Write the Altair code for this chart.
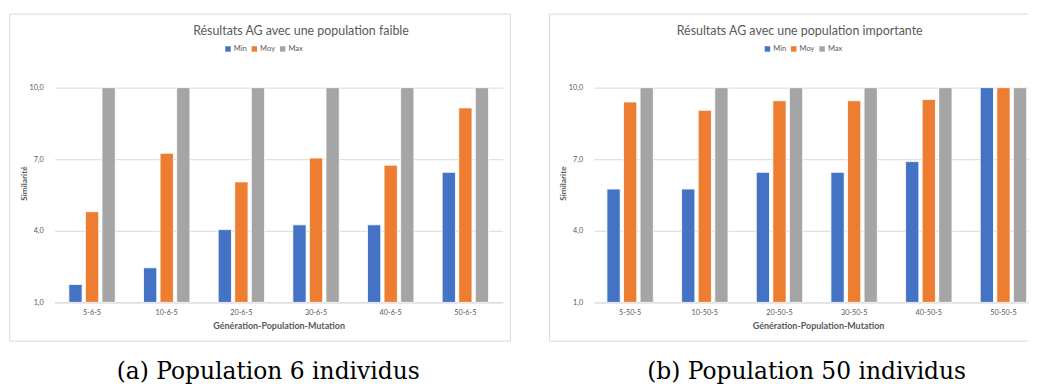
import altair as alt
import pandas as pd

series = ["Min", "Moy", "Max"]
colors = ["#4472C4", "#ED7D31", "#A5A5A5"]
y_ticks = [1, 4, 7, 10]

cats_a = ["5-6-5", "10-6-5", "20-6-5", "30-6-5", "40-6-5", "50-6-5"]
min_a = [1.75, 2.45, 4.05, 4.25, 4.25, 6.45]
moy_a = [4.8, 7.25, 6.05, 7.05, 6.75, 9.15]
max_a = [10.0, 10.0, 10.0, 10.0, 10.0, 10.0]

cats_b = ["5-50-5", "10-50-5", "20-50-5", "30-50-5", "40-50-5", "50-50-5"]
min_b = [5.75, 5.75, 6.45, 6.45, 6.9, 10.0]
moy_b = [9.4, 9.05, 9.45, 9.45, 9.5, 10.0]
max_b = [10.0, 10.0, 10.0, 10.0, 10.0, 10.0]

title_a = "Résultats AG avec une population faible"
title_b = "Résultats AG avec une population importante"
caption_a = "(a) Population 6 individus"
caption_b = "(b) Population 50 individus"
x_title = "Génération-Population-Mutation"
y_title_a = "Similarité"
y_title_b = "Similarite"

FONT = "Lato"
GREY_TXT = "#595959"
GRID = "#D9D9D9"
H = 216
ONE = alt.Data(values=[{}])


def panel(cats, mins, moys, maxs, title, caption, y_title, title_x, caption_x,
          width, pad_outer, align, x_title_x, frame_right, closed):
    rows = []
    for c, a, b, m in zip(cats, mins, moys, maxs):
        rows.append({"cat": c, "serie": "Min", "val": a})
        rows.append({"cat": c, "serie": "Moy", "val": b})
        rows.append({"cat": c, "serie": "Max", "val": m})
    df = pd.DataFrame(rows)

    if closed:
        frame = [alt.Chart(ONE).mark_rect(
            fillOpacity=0, stroke=GRID, strokeWidth=1
        ).encode(
            x=alt.value(-45.3), x2=alt.value(frame_right), y=alt.value(-74), y2=alt.value(255)
        )]
    else:
        frame = [
            alt.Chart(ONE).mark_rule(color=GRID, strokeWidth=1).encode(
                x=alt.value(-45), x2=alt.value(frame_right), y=alt.value(-74)),
            alt.Chart(ONE).mark_rule(color=GRID, strokeWidth=1).encode(
                x=alt.value(-45), x2=alt.value(frame_right), y=alt.value(255)),
            alt.Chart(ONE).mark_rule(color=GRID, strokeWidth=1).encode(
                x=alt.value(-45), y=alt.value(-74), y2=alt.value(255)),
        ]

    bars = alt.Chart(df).mark_bar(stroke="white", strokeWidth=0.8).encode(
        x=alt.X(
            "cat:N",
            sort=cats,
            scale=alt.Scale(paddingInner=0.334, paddingOuter=pad_outer, align=align),
            title=x_title,
            axis=alt.Axis(
                labelAngle=0,
                ticks=False,
                labelPadding=6.5,
                labelFont=FONT,
                labelFontSize=7.3,
                labelColor=GREY_TXT,
                domainColor=GRID,
                domainWidth=1,
                titleFont=FONT,
                titleFontSize=9,
                titleFontWeight="bold",
                titleColor=GREY_TXT,
                titleY=19,
                titleX=x_title_x,
            ),
        ),
        xOffset=alt.XOffset(
            "serie:N", sort=series, scale=alt.Scale(paddingInner=0.2, paddingOuter=0.1)
        ),
        y=alt.Y(
            "val:Q",
            scale=alt.Scale(domain=[1, 10], zero=False, nice=False),
            title=y_title,
            axis=alt.Axis(
                values=y_ticks,
                labelExpr="replace(format(datum.value, '.1f'), '.', ',')",
                ticks=False,
                domain=False,
                grid=True,
                gridColor=GRID,
                gridWidth=1,
                labelPadding=11.6,
                labelFont=FONT,
                labelFontSize=7.3,
                labelColor=GREY_TXT,
                titleFont=FONT,
                titleFontSize=8.3,
                titleFontWeight="bold",
                titleColor=GREY_TXT,
                titleX=-26.5,
                titleY=96,
            ),
        ),
        y2=alt.datum(1),
        color=alt.Color(
            "serie:N",
            sort=series,
            scale=alt.Scale(domain=series, range=colors),
            legend=alt.Legend(
                orient="none",
                legendX=170.5,
                legendY=-43,
                direction="horizontal",
                title=None,
                symbolType="square",
                symbolSize=30,
                symbolStrokeWidth=0,
                labelFont=FONT,
                labelFontSize=7.6,
                labelColor=GREY_TXT,
                labelOffset=2,
                columnPadding=3.5,
                padding=0,
            ),
        ),
    )

    title_t = alt.Chart(ONE).mark_text(
        text=title, font=FONT, fontSize=12.5, color=GREY_TXT, align="center", baseline="middle"
    ).encode(x=alt.value(title_x), y=alt.value(-57))

    caption_t = alt.Chart(ONE).mark_text(
        text=caption, font="DejaVu Serif", fontSize=23.5, color="black", align="center", baseline="middle"
    ).encode(x=alt.value(caption_x), y=alt.value(286))

    return alt.layer(*frame, bars, title_t, caption_t).properties(width=width, height=H)


left = panel(cats_a, min_a, moy_a, max_a, title_a, caption_a, y_title_a,
             247.7, 214.7, 450.6, 0.167, 0.5, 225.3, 458.4, True)
right = panel(cats_b, min_b, moy_b, max_b, title_b, caption_b, y_title_b,
              206.7, 213.7, 436.7, 0.0745, 1.0, 225.2, 436.7, False)

chart = (
    alt.hconcat(left, right, spacing=36.6)
    .resolve_scale(color="independent", x="independent", y="independent")
    .resolve_legend(color="independent")
    .properties(padding={"left": 0, "top": 4, "right": 0, "bottom": 0})
    .configure_view(stroke="transparent")
)

chart.save("out.html", embed_options={"renderer": "svg", "actions": False})
